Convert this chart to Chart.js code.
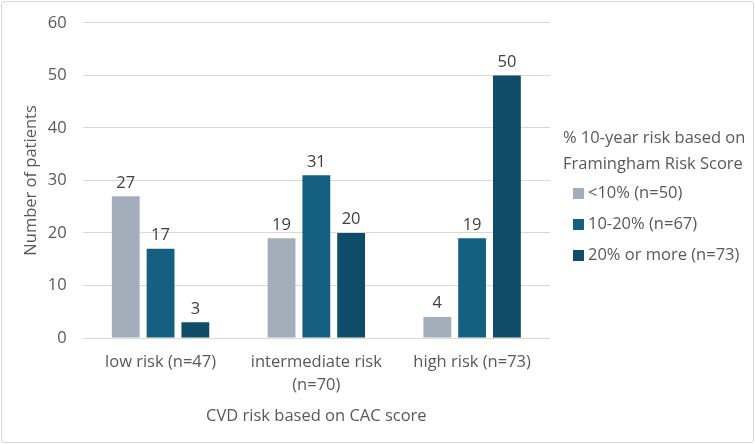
<!DOCTYPE html>
<html><head><meta charset="utf-8">
<script src="https://cdn.jsdelivr.net/npm/chart.js@4"></script>
<style>
html,body{margin:0;padding:0;background:#fff;}
#wrap{position:absolute;left:1px;top:1px;width:751px;height:440px;border:1px solid #d9d9d9;border-radius:3px;}
</style></head><body>
<div id="wrap"><canvas id="c" width="751" height="440"></canvas></div>
<script>
const categories = [["low risk (n=47)"], ["intermediate risk", "(n=70)"], ["high risk (n=73)"]];
const seriesNames = ["<10% (n=50)", "10-20% (n=67)", "20% or more (n=73)"];
const lowRiskFRS = [27, 19, 4];
const midRiskFRS = [17, 31, 19];
const highRiskFRS = [3, 20, 50];
const yTicks = [0, 10, 20, 30, 40, 50, 60];
const legendTitle = ["% 10-year risk based on", "Framingham Risk Score"];
const colors = ["#A2AFBB", "#156082", "#0E4C69"];
const FONT = "'Open Sans', sans-serif";
const FS = 16.5;
const TXT = "#595959";

const valueLabels = {
  id: 'valueLabels',
  afterDatasetsDraw(chart) {
    const ctx = chart.ctx;
    ctx.save();
    ctx.font = FS + "px " + FONT;
    ctx.fillStyle = "#404040";
    ctx.textAlign = "center";
    ctx.textBaseline = "bottom";
    chart.data.datasets.forEach((ds, i) => {
      chart.getDatasetMeta(i).data.forEach((bar, j) => {
        ctx.fillText(String(ds.data[j]), bar.x, bar.y - 5);
      });
    });
    ctx.restore();
  }
};

const customLegend = {
  id: 'customLegend',
  afterDraw(chart) {
    const ctx = chart.ctx;
    ctx.save();
    ctx.font = FS + "px " + FONT;
    ctx.fillStyle = TXT;
    ctx.textAlign = "left";
    ctx.textBaseline = "middle";
    const x0 = 561;
    ctx.fillText(legendTitle[0], x0, 136);
    ctx.fillText(legendTitle[1], x0, 162);
    chart.data.datasets.forEach((ds, i) => {
      const y = 191 + i * 31;
      ctx.fillStyle = ds.backgroundColor;
      ctx.fillRect(x0 + 10, y - 5, 11, 11);
      ctx.fillStyle = TXT;
      ctx.fillText(ds.label, x0 + 25, y);
    });
    ctx.restore();
  }
};

new Chart(document.getElementById('c'), {
  type: 'bar',
  data: {
    labels: categories,
    datasets: [
      { label: seriesNames[0], data: lowRiskFRS, backgroundColor: colors[0] },
      { label: seriesNames[1], data: midRiskFRS, backgroundColor: colors[1] },
      { label: seriesNames[2], data: highRiskFRS, backgroundColor: colors[2] }
    ]
  },
  options: {
    responsive: false,
    animation: false,
    layout: { padding: { top: 0, right: 203, left: 17, bottom: 16 } },
    datasets: { bar: { barPercentage: 0.8, categoryPercentage: 0.67 } },
    plugins: { legend: { display: false }, tooltip: { enabled: false } },
    scales: {
      x: {
        grid: { display: false },
        border: { display: false },
        ticks: { color: TXT, font: { family: FONT, size: FS, lineHeight: 1.4 }, padding: 5, maxRotation: 0 },
        title: { display: true, text: "CVD risk based on CAC score", color: TXT, font: { family: FONT, size: FS }, padding: { top: 4, bottom: 0 } }
      },
      y: {
        min: 0, max: 60,
        afterBuildTicks(axis) { axis.ticks = yTicks.map(v => ({ value: v })); },
        afterFit(axis) { axis.width -= 11; axis.paddingTop -= 5; },
        grid: { color: "#d9d9d9", drawTicks: false },
        border: { display: false },
        ticks: { color: TXT, font: { family: FONT, size: FS }, padding: 16 },
        title: { display: true, text: "Number of patients", color: TXT, font: { family: FONT, size: FS }, padding: 2 }
      }
    }
  },
  plugins: [valueLabels, customLegend]
});
</script>
</body></html>
